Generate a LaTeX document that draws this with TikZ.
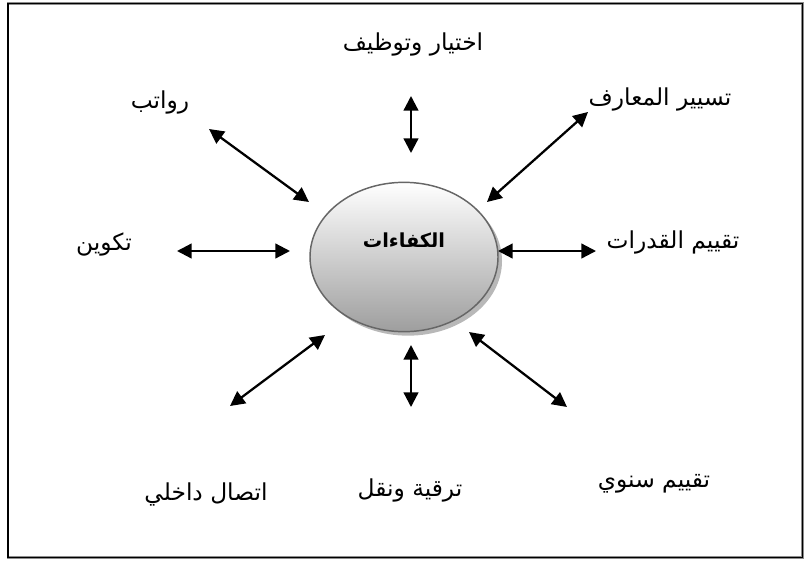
\documentclass[tikz,border=0pt]{standalone}
\usepackage{fontspec}
\usetikzlibrary{arrows.meta,shapes.geometric,shadows}
\TeXXeTstate=1
\newfontfamily\arabicfont[Script=Arabic]{DejaVu Sans}
\tikzset{
  lbl/.style={font=\arabicfont\fontsize{17.5}{21}\selectfont, inner sep=0pt},
  link/.style={line width=1.7pt, {Triangle[length=11pt,width=11pt]}-{Triangle[length=11pt,width=11pt]}},
  core/.style={ellipse, draw=black!60, line width=1.1pt, inner sep=0pt,
    minimum width=141pt, minimum height=112pt,
    top color=white, bottom color=black!38,
    drop shadow={shadow xshift=3pt, shadow yshift=-3pt, fill=black!35, opacity=0.8}},
}
\begin{document}
\begin{tikzpicture}[x=0.75pt,y=-0.75pt]
  \useasboundingbox (0,0) rectangle (805,561);
  % outer frame
  \draw[black!45, line width=1.9pt] (8,3.5) rectangle (802.5,557.5);
  \draw[line width=1.2pt] (8,3.5) rectangle (802.5,557.5);

  % central ellipse
  \node[core] (core) at (404,257) {};
  \node[font=\arabicfont\bfseries\fontsize{14.5}{17}\selectfont, inner sep=0pt] (coretext) at (404,240) {\beginR الكفاءات\endR};

  % surrounding labels
  \node[lbl] (hire)   at (413,44)  {\beginR اختيار وتوظيف\endR};
  \node[lbl] (pay)    at (160,102) {\beginR رواتب\endR};
  \node[lbl] (know)   at (660,99) {\beginR تسيير المعارف\endR};
  \node[lbl] (train)  at (104,244) {\beginR تكوين\endR};
  \node[lbl] (skill)  at (673,242) {\beginR تقييم القدرات\endR};
  \node[lbl] (comm)   at (206,494) {\beginR اتصال داخلي\endR};
  \node[lbl] (promo)  at (410,490) {\beginR ترقية ونقل\endR};
  \node[lbl] (annual) at (654,484) {\beginR تقييم سنوي\endR};

  % arrow end points
  \coordinate (t1) at (411,96);  \coordinate (t2) at (411,153);
  \coordinate (tl1) at (209,129); \coordinate (tl2) at (309,202);
  \coordinate (tr1) at (588,112); \coordinate (tr2) at (487,202);
  \coordinate (l1) at (177,251); \coordinate (l2) at (290,251);
  \coordinate (r1) at (498,251); \coordinate (r2) at (596,251);
  \coordinate (bl1) at (325,335); \coordinate (bl2) at (230,406);
  \coordinate (b1) at (411,345); \coordinate (b2) at (411,407);
  \coordinate (br1) at (469,332); \coordinate (br2) at (567,407);

  % double-headed arrows
  \draw[link] (t1) -- (t2);
  \draw[link] (tl1) -- (tl2);
  \draw[link] (tr1) -- (tr2);
  \draw[link] (l1) -- (l2);
  \draw[link] (r1) -- (r2);
  \draw[link] (bl1) -- (bl2);
  \draw[link] (b1) -- (b2);
  \draw[link] (br1) -- (br2);
\end{tikzpicture}
\end{document}
